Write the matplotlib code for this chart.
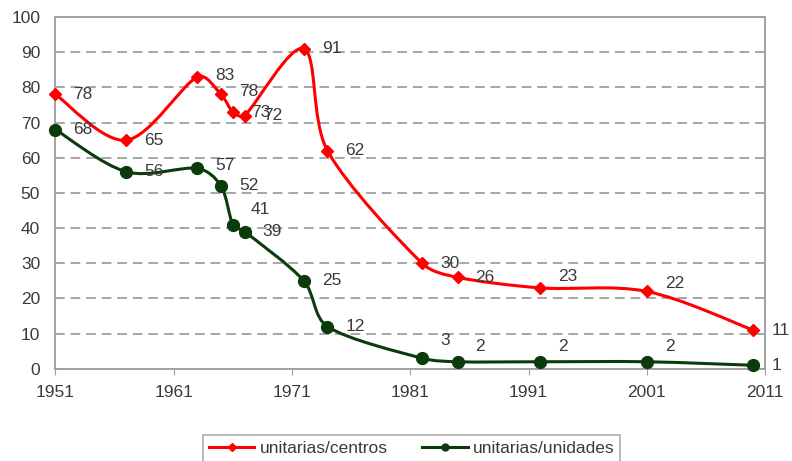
import matplotlib
matplotlib.use("Agg")
import matplotlib.pyplot as plt
import numpy as np
from matplotlib.path import Path
from matplotlib.patches import PathPatch
from matplotlib.lines import Line2D

plt.rcParams["font.family"] = ["Liberation Sans", "DejaVu Sans"]

# data
years = [1951, 1957, 1963, 1965, 1966, 1967, 1972, 1974, 1982, 1985, 1992, 2001, 2010]
centros = [78, 65, 83, 78, 73, 72, 91, 62, 30, 26, 23, 22, 11]
unidades = [68, 56, 57, 52, 41, 39, 25, 12, 3, 2, 2, 2, 1]
x_ticks = [1951, 1961, 1971, 1981, 1991, 2001, 2011]
y_ticks = list(range(0, 101, 10))
series_names = ["unitarias/centros", "unitarias/unidades"]

# label nudges (points) to follow the reference placement
centros_dy = [0, 0, 1, 2, 0, 0, 0, 0, 0, 0, 8, 6, 0]
unidades_dy = [0, 0, 2, 0, 11, 0, 0, 0, 13, 11, 11, 11, 0]

RED = "#ff0000"
GREEN = "#0b3b0b"
TXT = "#3a3a3a"
FS = 12.5


def smooth_path(x, y, sx, sy):
    # smoothed line as cubic beziers (catmull-rom tangents, worked out in
    # screen proportions and capped at a third of each segment's length)
    px = np.asarray(x, float) * sx
    py = np.asarray(y, float) * sy
    n = len(px)
    tang = []
    for i in range(n):
        a = max(i - 1, 0)
        b = min(i + 1, n - 1)
        tang.append(np.array([px[b] - px[a], py[b] - py[a]]) / 6)
    verts = [(x[0], y[0])]
    codes = [Path.MOVETO]
    for i in range(n - 1):
        L = np.hypot(px[i + 1] - px[i], py[i + 1] - py[i]) / 3
        t1 = tang[i] * min(1, L / np.hypot(*tang[i]))
        t2 = tang[i + 1] * min(1, L / np.hypot(*tang[i + 1]))
        c1 = (px[i] + t1[0], py[i] + t1[1])
        c2 = (px[i + 1] - t2[0], py[i + 1] - t2[1])
        verts += [(c1[0] / sx, c1[1] / sy), (c2[0] / sx, c2[1] / sy),
                  (x[i + 1], y[i + 1])]
        codes += [Path.CURVE4] * 3
    return Path(verts, codes)


fig = plt.figure(figsize=(7.92, 4.61), dpi=100)
ax = fig.add_axes([0.07, 0.2, 0.896, 0.763])

ax.set_xlim(1951, 2011)
ax.set_ylim(0, 100)
ax.set_xticks(x_ticks)
ax.set_yticks(y_ticks)
ax.yaxis.grid(True, color="#a6a6a6", linestyle=(0, (5, 3)), linewidth=1.4)
ax.set_axisbelow(True)
for s in ax.spines.values():
    s.set_color("#a0a0a0")
    s.set_linewidth(1.4)
ax.tick_params(axis="x", direction="out", length=4, color="#a0a0a0",
               labelsize=FS, labelcolor=TXT, pad=8)
ax.tick_params(axis="y", length=0, labelsize=FS, labelcolor=TXT, pad=11)

# pixel scale of the axes, for the smoothing
bb = ax.get_position()
sx = bb.width * 792 / 60
sy = bb.height * 461 / 100

ax.add_patch(PathPatch(smooth_path(years, unidades, sx, sy), fill=False,
                       edgecolor=GREEN, lw=2.2, zorder=3))
ax.add_patch(PathPatch(smooth_path(years, centros, sx, sy), fill=False,
                       edgecolor=RED, lw=2.2, zorder=3))
ax.plot(years, unidades, linestyle="none", marker="o", ms=8.5,
        color=GREEN, zorder=4, clip_on=False)
ax.plot(years, centros, linestyle="none", marker="D", ms=6.5,
        color=RED, zorder=4, clip_on=False)

for xv, yv, dy in zip(years, centros, centros_dy):
    ax.annotate(str(yv), (xv, yv), xytext=(13, dy), textcoords="offset points",
                ha="left", va="center", fontsize=FS, color=TXT,
                annotation_clip=False)
for xv, yv, dy in zip(years, unidades, unidades_dy):
    ax.annotate(str(yv), (xv, yv), xytext=(13, dy), textcoords="offset points",
                ha="left", va="center", fontsize=FS, color=TXT,
                annotation_clip=False)

handles = [
    Line2D([], [], color=RED, lw=2.2, marker="D", ms=4),
    Line2D([], [], color=GREEN, lw=2.2, marker="o", ms=5),
]
leg = fig.legend(handles, series_names, loc="upper center",
                 bbox_to_anchor=(0.52, 0.075), ncol=2, frameon=True,
                 fancybox=False, fontsize=12.5, handlelength=2.6,
                 handletextpad=0.3, columnspacing=2.0, borderpad=0.35)
leg.get_frame().set_edgecolor("#9a9a9a")
leg.get_frame().set_linewidth(1.2)
for t in leg.get_texts():
    t.set_color(TXT)

fig.savefig("out.png", dpi=100)
